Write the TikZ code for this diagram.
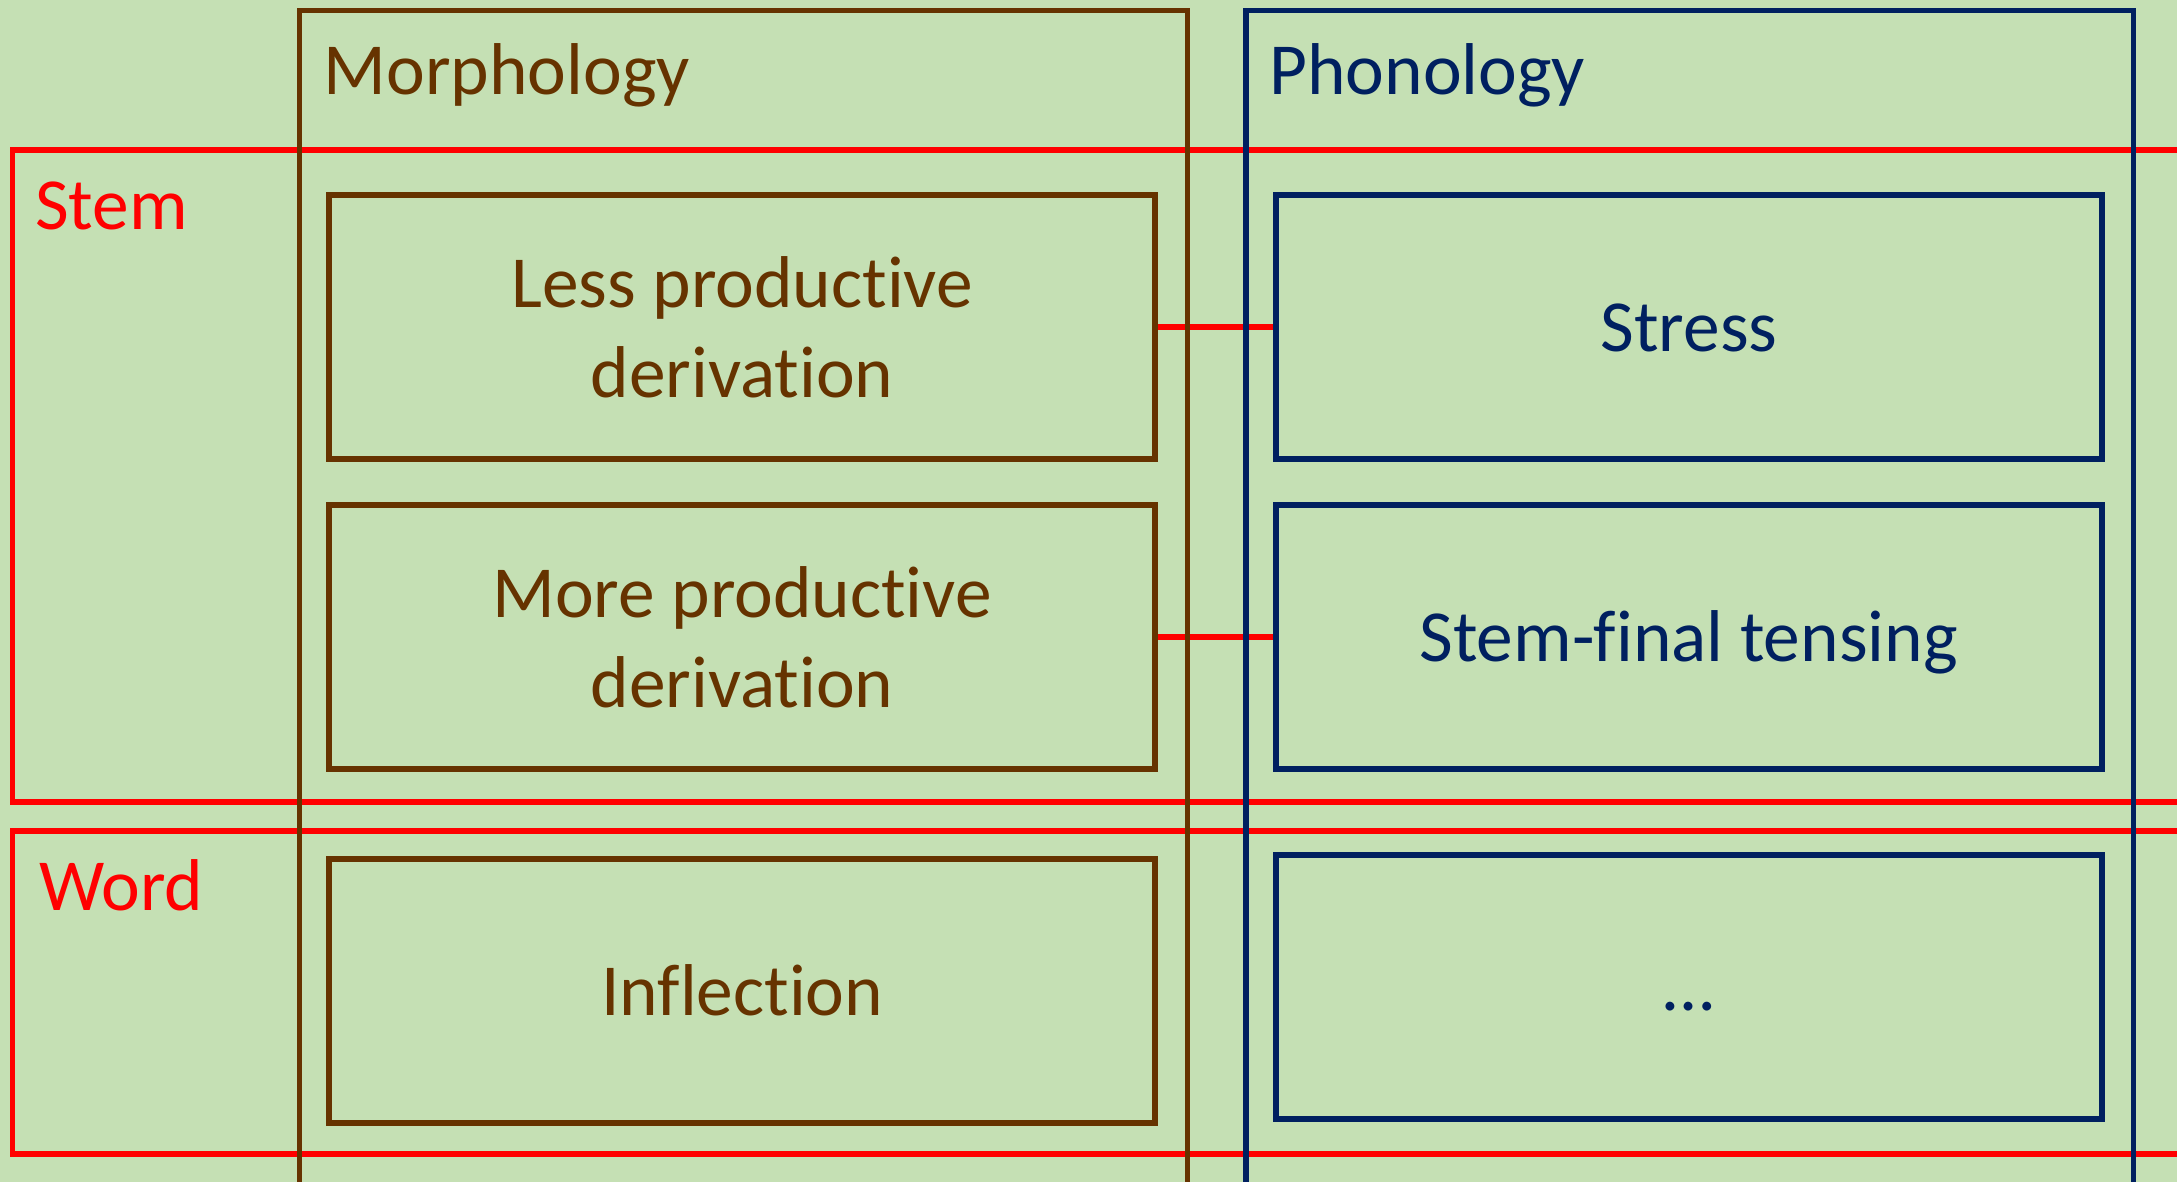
\documentclass[tikz,border=0pt]{standalone}
\usepackage{fontspec}
\setmainfont{Carlito}[Ligatures={NoCommon,NoRequired,NoContextual}]
\definecolor{bg}{HTML}{C5E0B4}
\definecolor{brn}{HTML}{663300}
\definecolor{nvy}{HTML}{002060}
\definecolor{rd}{HTML}{FF0000}
\newcommand{\nolig}{\kern0pt}
\begin{document}
\begin{tikzpicture}[x=0.7pt,y=-0.7pt,
  font=\fontsize{37}{45.5}\selectfont,
  inbox/.style={draw, line width=3pt, inner sep=0pt, minimum height=133pt, align=center},
  mbox/.style={inbox, brn, text=brn, minimum width=416.5pt},
  pbox/.style={inbox, nvy, text=nvy, minimum width=416.5pt},
  oneline/.style={text height=24.5pt, text depth=0pt},
  lbl/.style={anchor=base west, inner sep=0pt},
  outer/.style={line width=2.6pt},
  redline/.style={rd, line width=3pt}]
\useasboundingbox (0,0) rectangle (1568,851);
\clip (0,0) rectangle (1568,851);
\fill[bg] (0,0) rectangle (1568,851);
% level boxes
\draw[redline] (9,107.8) rectangle (1600,577.4);
\draw[redline] (9,598.3) rectangle (1600,831.2);
\node[lbl, text=rd] (stemlbl) at (25,165) {Stem};
\node[lbl, text=rd] (wordlbl) at (28,656) {Word};
% inner boxes
\node[mbox] (less) at (534.5,235.75) {Less product\nolig ive\\derivat\nolig ion};
\node[mbox] (more) at (534.5,459) {More product\nolig ive\\derivat\nolig ion};
\node[mbox, oneline] (infl) at (534.5,713.65) {Inf\nolig lect\nolig ion};
\node[pbox, oneline] (stress) at (1216.5,235.75) {Stress};
\node[pbox, oneline] (tens) at (1216.2,459) {Stem-f\nolig inal tensing};
\node[pbox, oneline] (dots) at (1216.2,710.65) {…};
% connectors
\draw[redline] (less.east) -- (stress.west);
\draw[redline] (more.east) -- (tens.west);
% outer columns
\draw[brn, outer] (215.7,900) -- (215.7,7.4) -- (855,7.4) -- (855,900);
\draw[nvy, outer] (897.4,900) -- (897.4,7.4) -- (1536.7,7.4) -- (1536.7,900);
\node[lbl, text=brn] (morphlbl) at (233,68) {Morphology};
\node[lbl, text=nvy] (phonlbl) at (914,68) {Phonology};
\end{tikzpicture}
\end{document}
